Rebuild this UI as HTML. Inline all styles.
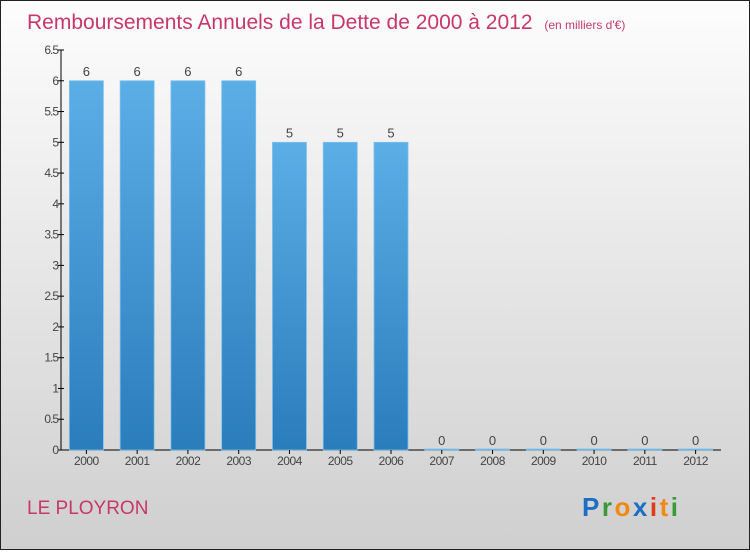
<!DOCTYPE html>
<html><head><meta charset="utf-8"><style>
body{margin:0;width:750px;height:550px;overflow:hidden;font-family:"Liberation Sans",sans-serif}
</style></head><body>
<svg id="c" width="750" height="550" xmlns="http://www.w3.org/2000/svg">
<defs>
<linearGradient id="bg" x1="0" y1="0" x2="0" y2="1"><stop offset="0" stop-color="#fdfdfd"/><stop offset="1" stop-color="#cfcfcf"/></linearGradient>
<linearGradient id="bar" x1="0" y1="0" x2="0" y2="1"><stop offset="0" stop-color="#5baee6"/><stop offset="1" stop-color="#2a7dbb"/></linearGradient>
</defs>
<rect x="0.5" y="0.5" width="749" height="549" fill="url(#bg)" stroke="#222"/>
<text x="27" y="29" font-size="21" fill="#c8376a">Remboursements Annuels de la Dette de 2000 à 2012 <tspan font-size="12" dx="6">(en milliers d'€)</tspan></text>
<text x="27" y="514" font-size="19" fill="#c8376a">LE PLOYRON</text>
<text x="582" y="516" font-size="26" font-weight="bold" letter-spacing="2.5"><tspan fill="#1a6fc4">P</tspan><tspan fill="#3a9a3a">r</tspan><tspan fill="#f08a12">o</tspan><tspan fill="#1a6fc4">x</tspan><tspan fill="#e03a1a">i</tspan><tspan fill="#f08a12">t</tspan><tspan fill="#3a9a3a">i</tspan></text>
<g id="plot"></g>
</svg>
<script>
const categories=["2000","2001","2002","2003","2004","2005","2006","2007","2008","2009","2010","2011","2012"];
const values=[6,6,6,6,5,5,5,0,0,0,0,0,0];
const ticks=[0,0.5,1,1.5,2,2.5,3,3.5,4,4.5,5,5.5,6,6.5];
const NS="http://www.w3.org/2000/svg";
const g=document.getElementById('plot');
const x0=61,x1=721,y0=450,yTop=50,ymax=6.5;
const y=v=>y0-(v/ymax)*(y0-yTop);
const bw=(x1-x0)/categories.length;
const xc=i=>x0+bw*(i+0.5);
function mk(t,a){const e=document.createElementNS(NS,t);for(const k in a)e.setAttribute(k,a[k]);g.appendChild(e);return e;}
let ax=mk('line',{x1:x0,y1:yTop,x2:x0,y2:y0,stroke:'#000'});


let bx=mk('line',{x1:x0,y1:y0,x2:x1,y2:y0,stroke:'#000'});


ticks.forEach(t=>{
 mk('line',{x1:x0-3,y1:y(t),x2:x0+3,y2:y(t),stroke:'#000'});
 const tx=mk('text',{x:x0-3,y:y(t)+4,'text-anchor':'end','font-size':12,fill:'#444','letter-spacing':'-1'});
 tx.textContent=String(t);
 
 
});
categories.forEach((c,i)=>{
 const v=values[i],cx=xc(i),w=34;
 const r=mk('rect',{x:cx-w/2,y:y(v)-(v===0?1:0),width:w,height:Math.max(y0-y(v),1),fill:'url(#bar)',stroke:'#7cc0ee','stroke-width':0.8});
 
 
 mk('line',{x1:cx,y1:y0,x2:cx,y2:y0+4,stroke:'#000'});
 const l=mk('text',{x:cx,y:y(v)-5,'text-anchor':'middle','font-size':13,fill:'#444'});
 l.textContent=String(v);
 
 
 const xl=mk('text',{x:cx,y:y0+15,'text-anchor':'middle','font-size':12,fill:'#444','letter-spacing':'-0.5'});
 xl.textContent=c;
 
 
});
</script>
</body></html>
